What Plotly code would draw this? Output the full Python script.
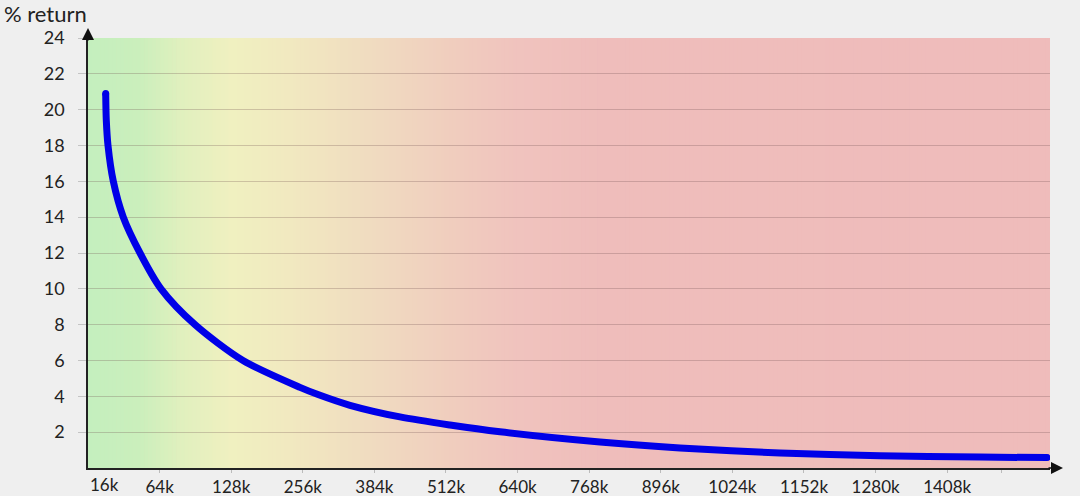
import plotly.graph_objects as go

# ---- data (x in axis tick-step units) ----
x_labels = ["64k", "128k", "256k", "384k", "512k", "640k", "768k", "896k",
            "1024k", "1152k", "1280k", "1408k", ""]
x_tick_pos = [1, 2, 3, 4, 5, 6, 7, 8, 9, 10, 11, 12, 12.765]
first_label = "16k"
first_label_pos = 0.23
y_ticks = [2, 4, 6, 8, 10, 12, 14, 16, 18, 20, 22, 24]

x_pos = [0.2472, 0.2556, 0.2793, 0.3534, 0.4930, 0.7263, 1.0196, 1.4944,
         2.1648, 2.9609, 3.2123, 3.6592, 4.3575, 5.0559, 5.7542, 7.1508,
         8.2682, 9.6648, 11.0615, 12.4581, 13.3939]
returns = [20.9, 19.4, 18.0, 16.0, 14.0, 12.0, 10.0, 8.0,
           6.0, 4.5, 4.1, 3.5, 2.85, 2.4, 2.02, 1.45,
           1.12, 0.84, 0.69, 0.61, 0.58]

X_MAX = 13.436
Y_MAX = 24

# background gradient stops (axis units, rgb)
grad_stops = [
    (0.0, (196, 239, 190)),
    (0.7, (202, 239, 188)),
    (1.3, (224, 240, 190)),
    (2.0, (240, 240, 192)),
    (2.8, (241, 233, 192)),
    (4.1, (240, 218, 192)),
    (5.1, (240, 205, 190)),
    (6.0, (240, 195, 190)),
    (7.2, (239, 189, 187)),
    (X_MAX, (239, 188, 187)),
]


def grad_color(u):
    for (u0, c0), (u1, c1) in zip(grad_stops[:-1], grad_stops[1:]):
        if u0 <= u <= u1:
            t = (u - u0) / (u1 - u0) if u1 > u0 else 0
            c = [round(a + (b - a) * t) for a, b in zip(c0, c1)]
            return f"rgb({c[0]},{c[1]},{c[2]})"
    c = grad_stops[-1][1]
    return f"rgb({c[0]},{c[1]},{c[2]})"


N_STRIPS = 240
shapes = []
for i in range(N_STRIPS):
    u0 = X_MAX * i / N_STRIPS
    u1 = X_MAX * (i + 1) / N_STRIPS
    shapes.append(dict(type="rect", xref="x", yref="paper",
                       x0=u0, x1=u1 + 0.01, y0=0, y1=1,
                       fillcolor=grad_color((u0 + u1) / 2),
                       line=dict(width=0), layer="below"))

FONT = "Lato, 'Open Sans', sans-serif"
BLUE = "rgb(0,0,232)"

fig = go.Figure()
fig.add_trace(go.Scatter(x=x_pos, y=returns, mode="lines",
                         line=dict(color=BLUE, width=7, shape="spline", smoothing=0.8),
                         hoverinfo="skip", showlegend=False))
# round caps
fig.add_trace(go.Scatter(x=[x_pos[0], x_pos[-1]], y=[returns[0], returns[-1]],
                         mode="markers", marker=dict(color=BLUE, size=7, line=dict(width=0)),
                         hoverinfo="skip", showlegend=False))

annotations = [
    dict(text="% return", xref="paper", yref="paper", x=(2 - 88) / 962,
         y=1 + 24.5 / 430, xanchor="left", yanchor="middle", showarrow=False,
         font=dict(family=FONT, size=22, color="#222")),
    dict(text=first_label, xref="x", yref="paper", x=first_label_pos, y=0,
         xanchor="center", yanchor="top", yshift=-4, showarrow=False,
         font=dict(family=FONT, size=17, color="#222")),
    # y-axis arrow
    dict(text="", xref="paper", yref="paper", x=0, y=1 + 10 / 430,
         ax=0, ay=14, axref="pixel", ayref="pixel", showarrow=True,
         arrowhead=2, arrowsize=1.6, arrowwidth=1.5, arrowcolor="#111"),
    # x-axis arrow
    dict(text="", xref="paper", yref="paper", x=1 + 13 / 962, y=0,
         ax=-16, ay=0, axref="pixel", ayref="pixel", showarrow=True,
         arrowhead=2, arrowsize=1.6, arrowwidth=1.5, arrowcolor="#111"),
]

fig.update_layout(
    width=1080, height=496,
    margin=dict(l=88, r=30, t=38, b=28, autoexpand=False),
    paper_bgcolor="#efefef",
    plot_bgcolor="rgb(239,188,187)",
    shapes=shapes,
    annotations=annotations,
    font=dict(family=FONT, size=18, color="#222"),
    xaxis=dict(range=[0, X_MAX], tickvals=x_tick_pos, ticktext=x_labels,
               showgrid=False, zeroline=False, showline=True,
               linecolor="#222", linewidth=1.5,
               ticks="outside", ticklen=3, tickcolor="#bbbbbb", tickwidth=1,
               ticklabelstandoff=0,
               tickfont=dict(family=FONT, size=17, color="#222")),
    yaxis=dict(range=[0, Y_MAX], tickvals=y_ticks,
               showgrid=True, gridcolor="rgba(110,80,80,0.28)", gridwidth=1,
               zeroline=False, showline=True, linecolor="#222", linewidth=1.5,
               ticks="outside", ticklen=8, tickcolor="#c4c4c4", tickwidth=1,
               ticklabelstandoff=10,
               tickfont=dict(family=FONT, size=18, color="#222")),
)

fig.write_html("out.html",
               config={"displayModeBar": False},
               post_script="document.body.style.margin='0';"
                           "document.body.style.overflow='hidden';")
